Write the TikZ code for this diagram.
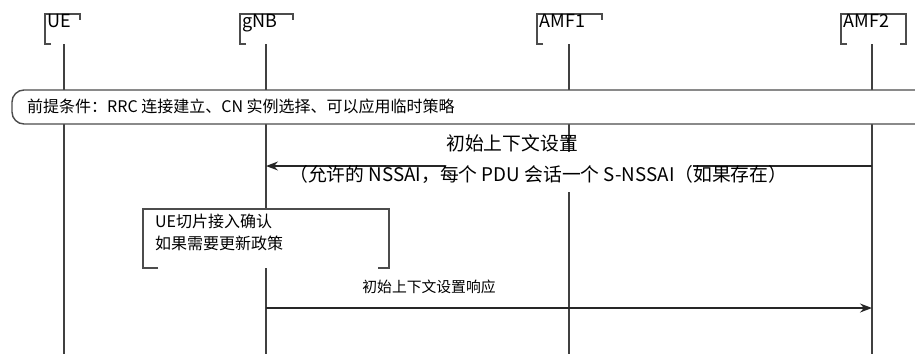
\documentclass[tikz,border=0pt]{standalone}
\usepackage{fontspec}
\setmainfont{Noto Sans CJK SC}
\usetikzlibrary{arrows.meta}
\tikzset{
  lifeline/.style={line width=1.4pt,black!75},
  bracket/.style={line width=1.4pt,black!70},
  msgline/.style={line width=1.4pt,black!85,-{Stealth[length=12pt,width=9pt,inset=4pt]}},
  headlabel/.style={anchor=north west,inner sep=0pt,font=\fontsize{18}{20}\selectfont},
  bodytext/.style={anchor=west,inner sep=0pt,font=\fontsize{16}{18}\selectfont},
  msgtext/.style={inner sep=0pt,font=\fontsize{18.8}{20}\selectfont},
}
\begin{document}
\begin{tikzpicture}[x=1pt,y=-1pt]
  \useasboundingbox (0,0) rectangle (915,354);
  % lifelines
  \foreach \name/\xx in {ue/64,gnb/266,amfa/569,amfb/872}{
    \coordinate (\name-top) at (\xx,44);
    \coordinate (\name-bot) at (\xx,354);
    \draw[lifeline] (\name-top) -- (\name-bot);
  }
  % heads
  \draw[bracket] (51,44) -- (45,44) -- (45,14) -- (80,14) -- (80,20);
  \draw[bracket] (246,44) -- (240,44) -- (240,14) -- (293,14) -- (293,20);
  \draw[bracket] (543,44) -- (537,44) -- (537,14) -- (602,14) -- (602,20);
  \draw[bracket] (847,44) -- (841,44) -- (841,14) -- (906,14) -- (906,44) -- (900,44);
  \node[headlabel] (ue) at (47.5,14.5) {UE};
  \node[headlabel] (gnb) at (242.5,14.5) {gNB};
  \node[headlabel] (amfa) at (539.5,14.5) {AMF1};
  \node[headlabel] (amfb) at (843.5,14.5) {AMF2};
  % precondition
  \draw[bracket,fill=white,rounded corners=12pt]
    (915,90) -- (12,90) -- (12,124) -- (915,124);
  \node[bodytext] (precond) at (27,106) {前提条件：RRC 连接建立、CN 实例选择、可以应用临时策略};
  % initial context setup
  \coordinate (setup-src) at (872,166);
  \coordinate (setup-dst) at (266,166);
  \draw[msgline] (setup-src) -- (setup-dst);
  \fill[white] (445,152) rectangle (693,192);
  \node[msgtext] (setup) at (512,143) {初始上下文设置};
  \node[msgtext,anchor=west] (setupinfo) at (289,174)
    {（允许的 NSSAI，每个 PDU 会话一个 S-NSSAI（如果存在）};
  % slice check
  \fill[white] (143,209) rectangle (389,268);
  \draw[bracket] (158,268) -- (143,268) -- (143,209) -- (389,209) -- (389,268) -- (378,268);
  \node[anchor=north west,align=left,inner sep=0pt,
    font=\fontsize{16}{22}\selectfont] (slicecheck) at (155,214)
    {UE切片接入确认\\如果需要更新政策};
  % response
  \coordinate (resp-src) at (266,308);
  \coordinate (resp-dst) at (872,308);
  \draw[msgline] (resp-src) -- (resp-dst);
  \node[inner sep=0pt,font=\fontsize{14.8}{16}\selectfont] (resp) at (429,287) {初始上下文设置响应};
\end{tikzpicture}
\end{document}
